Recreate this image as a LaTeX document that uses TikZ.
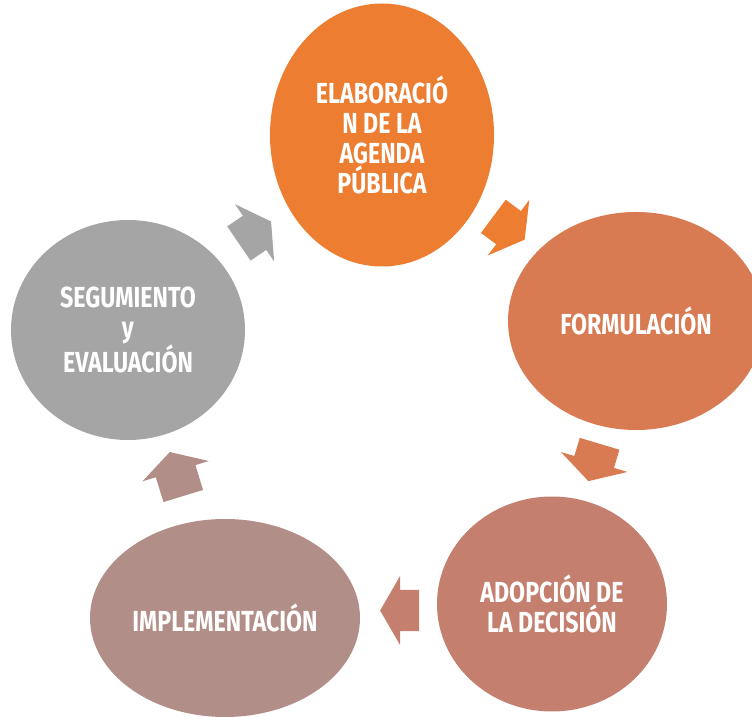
\documentclass[tikz,border=0pt]{standalone}
\usepackage{fontspec}
\usepackage{tikz}
\usetikzlibrary{shapes,arrows}
\usetikzlibrary{positioning}
\usetikzlibrary{calc}
\newfontfamily\rotulo{Fira Sans}[FakeStretch=0.8]
\definecolor{naranja}{HTML}{ED7D31}
\definecolor{terracota}{HTML}{D87B52}
\definecolor{salmon}{HTML}{C47F6E}
\definecolor{malva}{HTML}{B28E88}
\definecolor{gris}{HTML}{A5A5A5}

\begin{document}
\begin{tikzpicture}[x=1pt,y=1pt,
  fase/.style={ellipse,inner sep=0pt,text=white,align=center,font=\rotulo\bfseries\fontsize{29}{30}\selectfont},
  flecha/.style={single arrow,draw=none,inner sep=0pt,inner ysep=20.5pt,minimum height=39pt,single arrow head extend=14pt,single arrow tip angle=120,rotate=#1,xshift=-6pt}]
\clip (0,0) rectangle (752,717);
\path node[fase,fill=naranja,minimum width=224pt,minimum height=263pt] (e1) at (382,582) {ELABORACIÓ\\N DE LA\\AGENDA\\PÚBLICA};
\path node[fase,fill=terracota,minimum width=256pt,minimum height=218pt] (e2) at (636,396) {FORMULACIÓN};
\path node[fase,fill=salmon,minimum width=230pt,minimum height=215pt] (e3) at (552,113) {ADOPCIÓN DE\\LA DECISIÓN};
\path node[fase,fill=malva,minimum width=270pt,minimum height=198pt] (e4) at (225,99) {IMPLEMENTACIÓN};
\path node[fase,fill=gris,minimum width=234pt,minimum height=220pt] (e5) at (128,387) {SEGUMIENTO\\y\\EVALUACIÓN};
% flechas del ciclo
\path node[flecha=-36.7,fill=naranja] (f1) at ($(e1)!0.5!(e2)$) {};
\path node[flecha=-106.7,fill=terracota] (f2) at ($(e2)!0.5!(e3)$) {};
\path node[flecha=180,fill=salmon] (f3) at ($(e3)!0.466!(e4)$) {};
\path node[flecha=107,fill=malva,minimum height=46pt] (f4) at ($(e4)!0.5!(e5)$) {};
\path node[flecha=34.4,fill=gris] (f5) at ($(e5)!0.5!(e1)$) {};
\end{tikzpicture}
\end{document}
